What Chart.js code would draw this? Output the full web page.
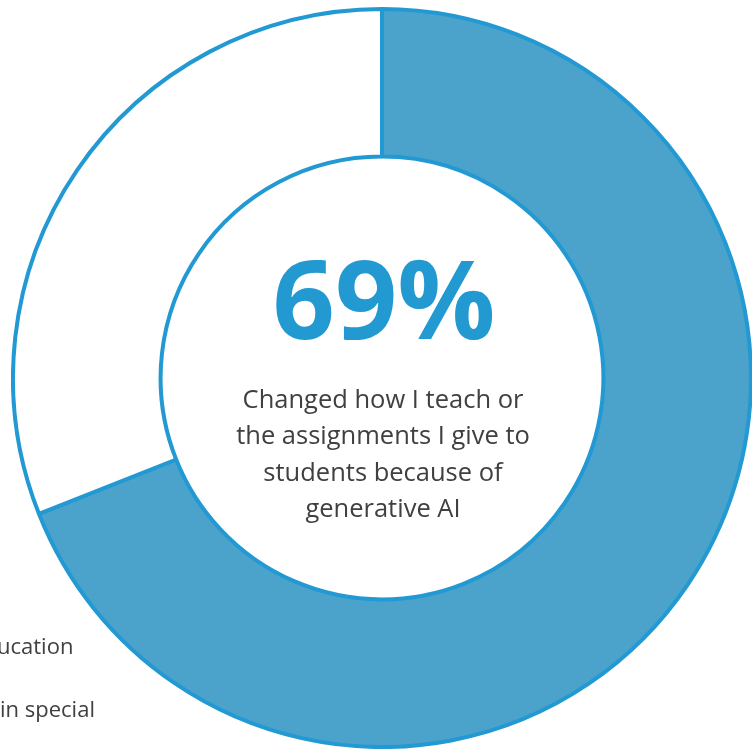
<!DOCTYPE html>
<html lang="en">
<head>
  <meta charset="UTF-8" />
  <title>Generative AI and Teaching</title>
  <style>
    body {
      margin: 0;
      width: 752px;
      height: 751px;
      overflow: hidden;
      background: #fff;
      font-family: "Open Sans", sans-serif;
      position: relative;
    }

    .chart-box {
      position: absolute;
      left: 11px;
      top: 7px;
      width: 742px;
      height: 742px;
    }

    /* big number + caption sit in the hole of the doughnut */
    .center-value {
      position: absolute;
      left: 184px;
      width: 400px;
      top: 242px;
      text-align: center;
      font-size: 109px;
      line-height: 109px;
      font-weight: 700;
      color: #2299d0;
    }

    .center-caption {
      position: absolute;
      left: 183px;
      width: 400px;
      top: 380px;
      text-align: center;
      font-size: 25.5px;
      line-height: 36.3px;
      color: #404040;
    }

    .legend-line {
      position: absolute;
      font-size: 22px;
      line-height: 30px;
      color: #404040;
      white-space: nowrap;
    }
  </style>
  <script src="https://cdn.jsdelivr.net/npm/chart.js"></script>
</head>
<body>

  <div class="chart-box">
    <canvas id="changedChart"></canvas>
  </div>

  <div class="center-value" id="centerValue"></div>
  <div class="center-caption" id="centerCaption"></div>

  <div class="legend-line" style="left:-3px; top:630px;">ucation</div>
  <div class="legend-line" style="left:0px; top:693px;">in special</div>

  <script>
    const labels = ["Changed how I teach", "Did not change"];
    const values = [69, 31];
    const caption = ["Changed how I teach or", "the assignments I give to", "students because of", "generative AI"];

    document.getElementById("centerValue").textContent = values[0] + "%";
    document.getElementById("centerCaption").innerHTML = caption.join("<br>");

    const ctx = document.getElementById("changedChart").getContext("2d");
    new Chart(ctx, {
      type: "doughnut",
      data: {
        labels: labels,
        datasets: [{
          data: values,
          backgroundColor: ["#4ba3cc", "#ffffff"],
          borderColor: "#2299d2",
          borderWidth: 4
        }]
      },
      options: {
        responsive: true,
        maintainAspectRatio: false,
        animation: false,
        cutout: "60%",
        layout: { padding: 0 },
        plugins: {
          legend: { display: false },
          tooltip: { enabled: false }
        }
      }
    });
  </script>
</body>
</html>
